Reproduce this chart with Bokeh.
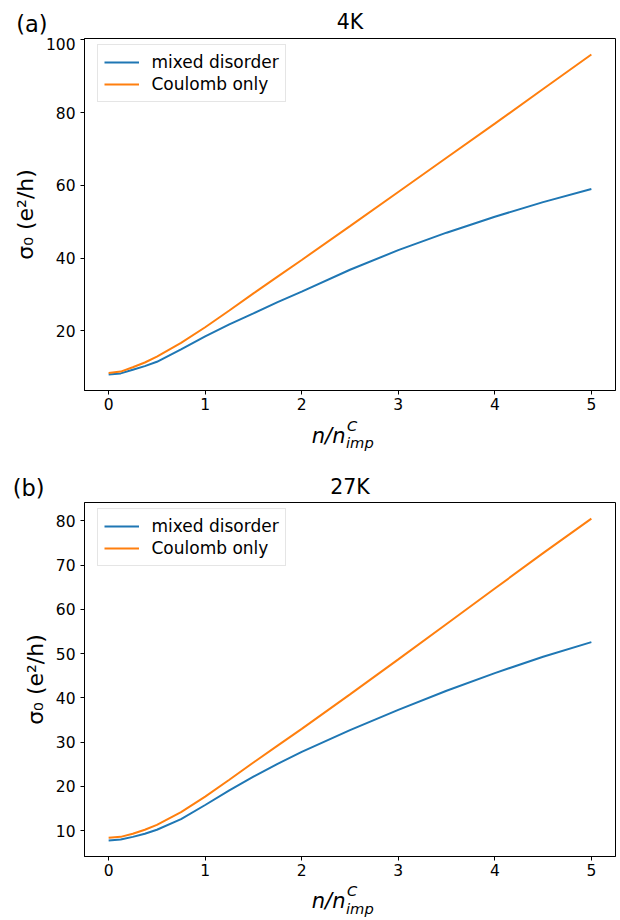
from bokeh.plotting import figure
from bokeh.models import Range1d, Legend, LegendItem, FixedTicker, LinearAxis
from bokeh.layouts import column
from bokeh.embed import file_html
from bokeh.resources import INLINE
from bokeh.core.properties import value

# ---------------- data ----------------
x_vals = [0, 0.125, 0.25, 0.375, 0.5, 0.75, 1, 1.25, 1.5, 1.75, 2, 2.5, 3, 3.5, 4, 4.5, 5]

mixed_4K = [8.0, 8.3, 9.3, 10.3, 11.5, 14.9, 18.5, 21.8, 24.8, 27.9, 30.8, 36.8, 42.2, 47.0, 51.4, 55.4, 59.0]
coulomb_4K = [8.4, 8.8, 10.0, 11.3, 12.9, 16.7, 21.0, 25.6, 30.3, 34.9, 39.5, 48.8, 58.2, 67.6, 77.0, 86.5, 96.0]

mixed_27K = [7.8, 8.0, 8.6, 9.3, 10.2, 12.6, 15.8, 19.1, 22.2, 25.1, 27.8, 32.7, 37.3, 41.6, 45.6, 49.3, 52.6]
coulomb_27K = [8.4, 8.6, 9.3, 10.2, 11.3, 14.2, 17.7, 21.5, 25.4, 29.2, 33.0, 40.8, 48.7, 56.7, 64.7, 72.7, 80.5]

series_labels = ["mixed disorder", "Coulomb only"]
series_colors = ["#1f77b4", "#ff7f0e"]
titles = ["4K", "27K"]
panel_tags = ["(a)", "(b)"]
x_ticks = [0, 1, 2, 3, 4, 5]
y_ticks_4K = [20, 40, 60, 80, 100]
y_ticks_27K = [10, 20, 30, 40, 50, 60, 70, 80]
y_label = "σ₀ (e²/h)"
x_label_main = "n/n"
x_label_sub = "imp"
x_label_sup = "C"

FONT = "DejaVu Sans"
W = 620
X_START, X_END = -0.25, 5.25


def make_panel(mixed, coulomb, yticks, bl, fw, fh, bb):
    ymin = min(mixed + coulomb)
    ymax = max(mixed + coulomb)
    pad = 0.05 * (ymax - ymin)
    p = figure(frame_width=fw, frame_height=fh,
               min_border_left=bl, min_border_right=W - bl - fw,
               min_border_top=1, min_border_bottom=bb,
               x_range=Range1d(X_START, X_END),
               y_range=Range1d(ymin - pad, ymax + pad),
               output_backend="svg", toolbar_location=None,
               background_fill_color="white", border_fill_color="white")
    p.grid.visible = False
    p.outline_line_color = "black"
    p.outline_line_width = 1
    p.outline_line_alpha = 1

    p.xaxis[0].ticker = FixedTicker(ticks=x_ticks)
    p.yaxis[0].ticker = FixedTicker(ticks=yticks)
    for ax in (p.xaxis[0], p.yaxis[0]):
        ax.axis_line_color = "black"
        ax.major_tick_line_color = "black"
        ax.major_tick_in = 0
        ax.major_tick_out = 4
        ax.minor_tick_in = 0
        ax.minor_tick_out = 0
        ax.major_label_text_font = FONT
        ax.major_label_text_font_size = "15.5px"
        ax.major_label_text_color = "black"
    p.xaxis[0].major_label_standoff = 3
    p.yaxis[0].major_label_standoff = 5
    p.yaxis[0].axis_label = y_label
    p.yaxis[0].axis_label_text_font = FONT
    p.yaxis[0].axis_label_text_font_size = "22px"
    p.yaxis[0].axis_label_text_font_style = "normal"
    p.yaxis[0].axis_label_text_color = "black"
    p.yaxis[0].axis_label_standoff = 5

    r1 = p.line(x_vals, mixed, line_color=series_colors[0], line_width=2)
    r2 = p.line(x_vals, coulomb, line_color=series_colors[1], line_width=2)

    leg_h = 56
    legend = Legend(items=[LegendItem(label=series_labels[0], renderers=[r1]),
                           LegendItem(label=series_labels[1], renderers=[r2])],
                    location=(12.5, fh - 7.5 - leg_h),
                    padding=6, spacing=0, margin=0,
                    glyph_width=35, glyph_height=22, label_height=22,
                    label_standoff=13,
                    label_text_font=FONT, label_text_font_size="17px",
                    label_text_color="black",
                    border_line_color="#cccccc", border_line_width=1,
                    background_fill_color="white", background_fill_alpha=0.8)
    p.add_layout(legend)
    return p


def strip(h, bl, fw, tag=None, tag_y=None, tag_right=None):
    s = figure(frame_width=fw, frame_height=h,
               min_border_left=bl, min_border_right=W - bl - fw,
               min_border_top=0, min_border_bottom=0,
               x_range=Range1d(X_START, X_END), y_range=Range1d(h, 0),
               x_axis_type=None, y_axis_type=None,
               toolbar_location=None, output_backend="svg",
               background_fill_color="white", border_fill_color="white")
    s.outline_line_color = None
    if tag is not None:
        ax = LinearAxis(ticker=FixedTicker(ticks=[tag_y]),
                        major_label_overrides={tag_y: tag},
                        axis_line_color=None, major_tick_line_color=None,
                        major_tick_in=0, major_tick_out=0,
                        minor_tick_in=0, minor_tick_out=0,
                        major_label_standoff=int(round(bl - tag_right)),
                        major_label_text_font=FONT,
                        major_label_text_font_size="22.5px",
                        major_label_text_color="black")
        s.add_layout(ax, "left")
    return s


def put(s, y, txt, size_px, align="left", style="normal", dx=0):
    # the text glyph draws its alphabetic baseline ~0.38 em lower than asked
    s.text(x=[(X_START + X_END) / 2], y=[y - 0.38 * size_px], text=[txt],
           text_font=value(FONT), text_font_size=value(f"{size_px}px"),
           text_font_style=style, x_offset=dx,
           text_align=align, text_baseline="alphabetic", text_color="black")


def put_xlabel(s, base, sub_base, sup_base):
    put(s, base, x_label_main, 21, "right", "italic", -4.5)
    put(s, sub_base, x_label_sub, 14.7, "left", "italic", -4.0)
    put(s, sup_base, x_label_sup, 14.7, "left", "italic", -3.0)


# layout geometry (pixels)
BL, FW = 84, 531
FH1, FH2 = 352, 354
BB = 26

sA = strip(37, BL, FW, panel_tags[0], 23, 47)
put(sA, 29.3, titles[0], 20.5, "center")

p1 = make_panel(mixed_4K, coulomb_4K, y_ticks_4K, BL, FW, FH1, BB)

sB = strip(85, BL, FW, panel_tags[1], 73, 44)
put_xlabel(sB, 27.3, 32.0, 14.6)
put(sB, 78, titles[1], 20.5, "center")

p2 = make_panel(mixed_27K, coulomb_27K, y_ticks_27K, BL, FW, FH2, BB)

sC = strip(37, BL, FW)
put_xlabel(sC, 26.6, 31.3, 14.0)

layout = column(sA, p1, sB, p2, sC, spacing=0)
open("out.html", "w").write(file_html(layout, INLINE))
